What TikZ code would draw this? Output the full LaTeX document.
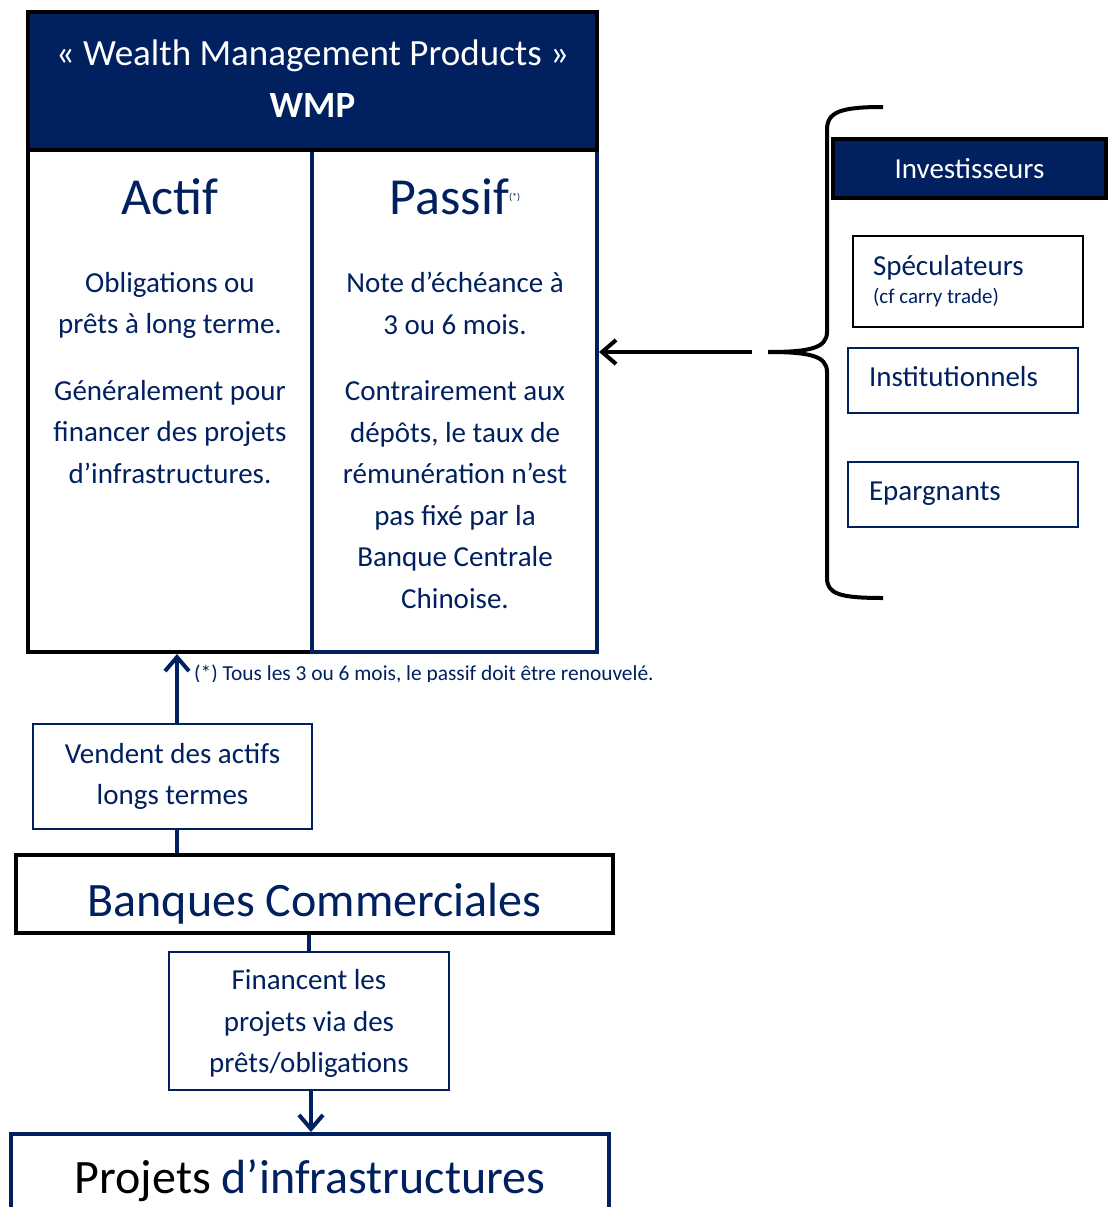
\documentclass[tikz,border=0pt]{standalone}
\usepackage{fontspec}
\setmainfont{Carlito}
\usetikzlibrary{arrows.meta}
\definecolor{wmpblue}{RGB}{0,32,96}

\begin{document}
\begin{tikzpicture}[x=1pt,y=-1pt]
\tikzstyle{every node}=[inner sep=0pt,text=wmpblue]
\tikzstyle{bigbox}=[draw,line width=4pt]
\tikzstyle{smallbox}=[draw=wmpblue,line width=1.4pt]
\tikzstyle{darkbox}=[bigbox,draw=black,fill=wmpblue,text=white]
\tikzstyle{bodytext}=[align=center,font=\fontsize{29}{41.5}\selectfont]
\tikzstyle{sidetext}=[align=left,font=\fontsize{29}{35}\selectfont,text height=21pt,text depth=9pt]
\tikzstyle{link}=[draw=wmpblue,line width=4pt]
\tikzstyle{barb}=[-{Straight Barb[length=14pt,width=24pt]}]

\useasboundingbox (0,0) rectangle (1109,1207);
\clip (0,0) rectangle (1109,1207);

\node[bigbox,minimum width=284pt,minimum height=502pt] (actif) at (170,401) {};
\node[bigbox,draw=wmpblue,minimum width=285pt,minimum height=502pt] (passif) at (454.5,401) {};
\node[darkbox,minimum width=569pt,minimum height=138pt,align=center,
  font=\fontsize{37}{52}\selectfont] (wmp) at (312.5,81)
  {« Wealth Management Products »\strut\\\textbf{WMP}\strut};

\node[font=\fontsize{52}{60}\selectfont,anchor=base] (actiftitle) at (170,214) {Actif};
\node[font=\fontsize{52}{60}\selectfont,anchor=base] (passiftitle) at (455,214)
  {Passif\raisebox{14pt}{\fontsize{10}{10}\selectfont(*)}};
\node[bodytext,anchor=north] (actifbody) at (170,272)
  {Obligations ou\\prêts à long terme.\\[25pt]Généralement pour\\financer des projets\\d’infrastructures.};
\node[bodytext,anchor=north] (passifbody) at (455,272)
  {Note d’échéance à\\3 ou 6 mois.\\[25pt]Contrairement aux\\dépôts, le taux de\\rémunération n’est\\pas fixé par la\\Banque Centrale\\Chinoise.};

\begin{scope}
\clip (185,655) rectangle (700,681.5);
\node[anchor=base west,font=\fontsize{21.4}{25}\selectfont] (note) at (194,680)
  {(*) Tous les 3 ou 6 mois, le passif doit être renouvelé.};
\end{scope}

% investisseurs
\node[darkbox,minimum width=273pt,minimum height=59pt,font=\fontsize{29}{35}\selectfont] (invest) at (969.5,168.5) {Investisseurs};
\node[smallbox,draw=black,align=left,font=\fontsize{29}{35}\selectfont,minimum width=230pt,minimum height=91pt,text width=190pt,inner xsep=20pt] (specul) at (968,281.5)
  {Spéculateurs\\[-7pt]{\fontsize{21}{25}\selectfont\spaceskip=0pt (cf carry trade)}};
\node[smallbox,sidetext,minimum width=230pt,minimum height=65pt,text width=188pt,inner xsep=21pt] (instit) at (963,380.5) {Institutionnels};
\node[smallbox,sidetext,minimum width=230pt,minimum height=65pt,text width=188pt,inner xsep=21pt] (eparg) at (963,494.5) {Epargnants};

\draw[line width=4pt] (883,107) .. controls (840,107) and (827,112) .. (827,130) -- (827,332)
  .. controls (827,348) and (810,352) .. (768,352) coordinate (bracetip)
  .. controls (810,352) and (827,356) .. (827,372) -- (827,578)
  .. controls (827,594) and (840,598) .. (883,598);
\coordinate (arrowstart) at (752,352);
\draw[line width=4pt,barb] (arrowstart) -- (arrowstart -| passif.east);

% banques
\node[smallbox,align=center,font=\fontsize{29}{41.5}\selectfont,minimum width=279pt,minimum height=105pt] (vendent) at (172.5,776.5)
  {Vendent des actifs\\longs termes};
\node[bigbox,minimum width=597pt,minimum height=78pt,font=\fontsize{48}{56}\selectfont,text height=44pt,text depth=0pt] (banques) at (314.5,894)
  {Banques Commerciales};
\node[smallbox,align=center,font=\fontsize{29}{41.5}\selectfont,minimum width=280pt,minimum height=138pt,text depth=0pt] (financent) at (309,1021)
  {Financent les\\projets via des\\prêts/obligations};
\node[bigbox,draw=wmpblue,minimum width=598pt,minimum height=94pt,font=\fontsize{48}{56}\selectfont] (projets) at (310,1181)
  {\textcolor{black}{Projets} d’infrastructures};

\draw[link,barb] ([xshift=4.5pt]vendent.north) -- ([xshift=4.5pt]vendent.north |- actif.south);
\draw[link] ([xshift=4.5pt]vendent.south) -- ([xshift=4.5pt]vendent.south |- banques.north);
\draw[link] (financent.north |- banques.south) -- (financent.north);
\draw[link,barb] ([xshift=2pt]financent.south) -- ([xshift=2pt]financent.south |- projets.north);

\end{tikzpicture}
\end{document}
